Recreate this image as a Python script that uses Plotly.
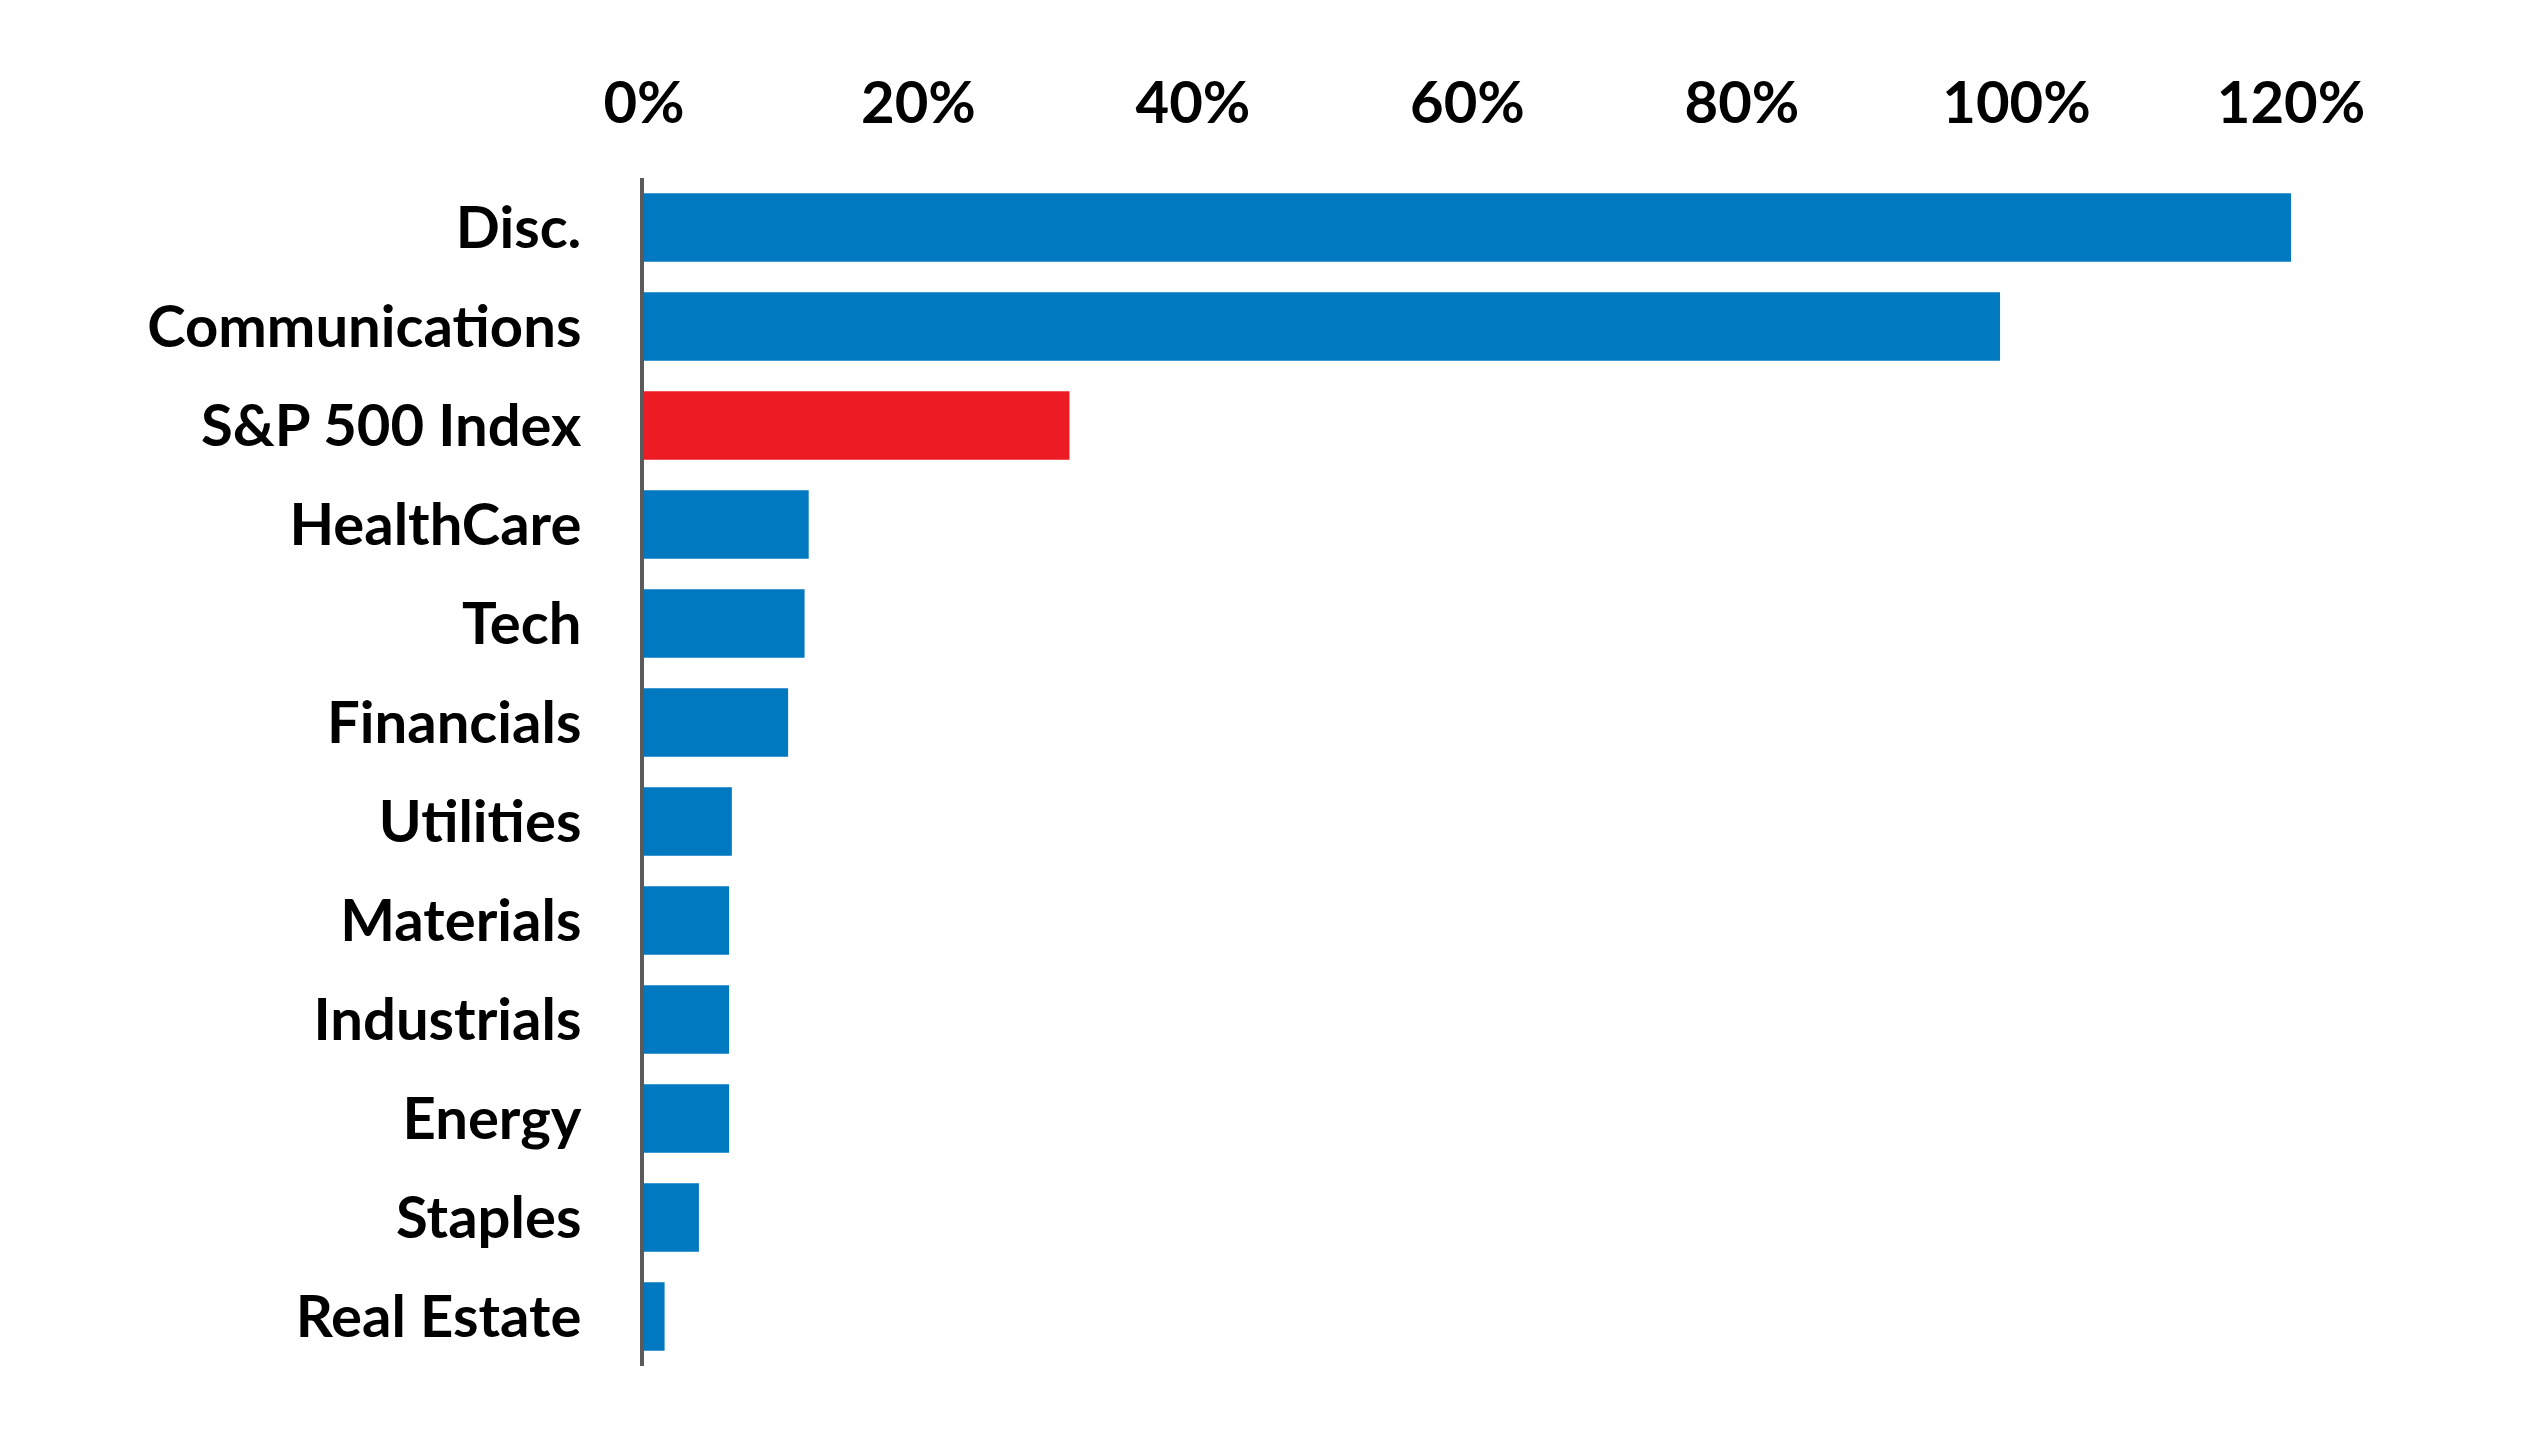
import plotly.graph_objects as go

categories = ["Disc.", "Communications", "S&P 500 Index", "HealthCare", "Tech",
              "Financials", "Utilities", "Materials", "Industrials", "Energy",
              "Staples", "Real Estate"]
values = [120.0, 98.8, 31.0, 12.0, 11.7, 10.5, 6.4, 6.2, 6.2, 6.2, 4.0, 1.5]
highlight = "S&P 500 Index"
tick_vals = [0, 20, 40, 60, 80, 100, 120]
tick_text = ["0%", "20%", "40%", "60%", "80%", "100%", "120%"]

BLUE = "#0079C1"
RED = "#ED1C24"
colors = [RED if c == highlight else BLUE for c in categories]

W, H = 2521, 1434
fig = go.Figure(go.Bar(
    x=values, y=categories, orientation="h",
    marker=dict(color=colors, line=dict(width=0)),
    width=0.69,
))

font = dict(family="Lato", size=58, color="#000000", weight="bold")

fig.update_layout(
    width=W, height=H,
    margin=dict(l=636, r=238, t=170, b=76),
    paper_bgcolor="white", plot_bgcolor="white",
    showlegend=False,
    font=font,
    bargap=0.31,
)
fig.update_xaxes(
    range=[0, 120], side="top", tickvals=tick_vals, ticktext=tick_text,
    showgrid=False, zeroline=False, showline=False, ticks="",
    tickfont=font, ticklabelstandoff=42,
)
fig.update_yaxes(
    categoryorder="array", categoryarray=categories, autorange="reversed",
    showgrid=False, zeroline=False, showline=True, linecolor="#5a5a5a",
    linewidth=4, ticks="", tickfont=font, ticklabelstandoff=47,
)

fig.write_html("out.html")
